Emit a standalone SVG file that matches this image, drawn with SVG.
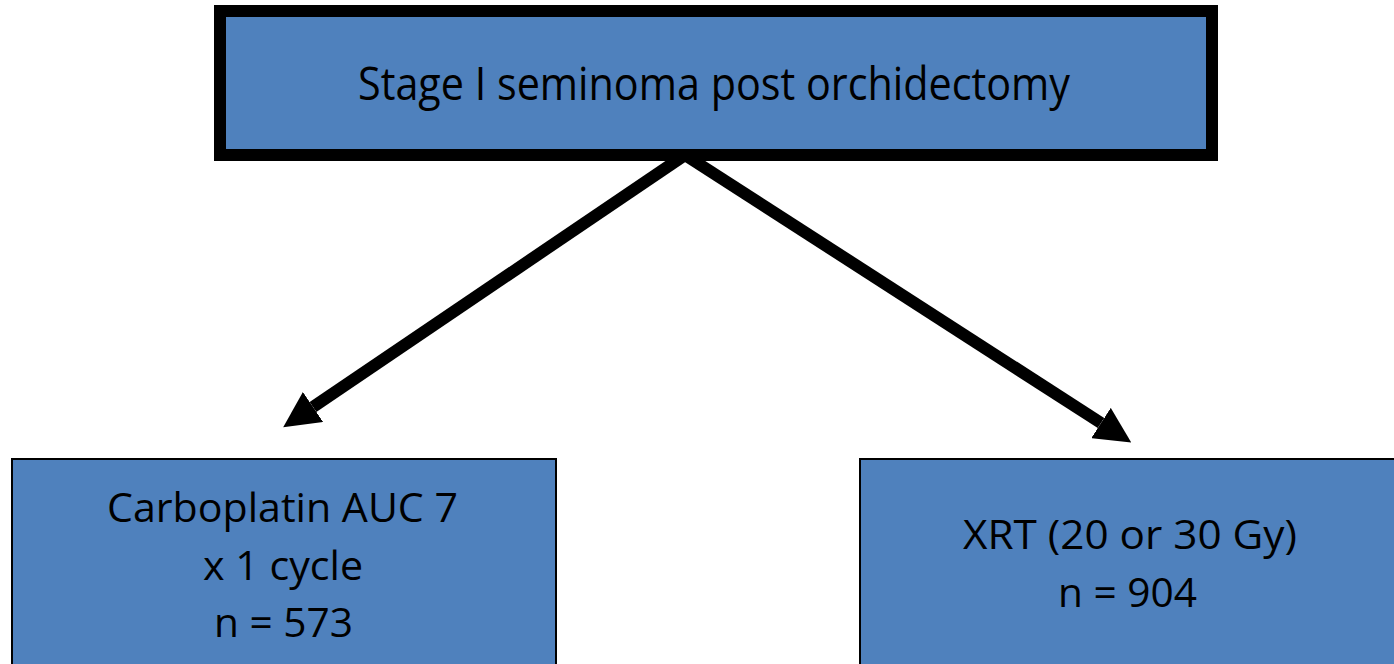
<svg xmlns="http://www.w3.org/2000/svg" width="1394" height="664" viewBox="0 0 1394 664">
<defs>
<style>
.box{fill:#4F81BD;stroke:#000}
.lbl{font-family:"Open Sans","Liberation Sans",sans-serif;fill:#000}
.conn{stroke:#000;stroke-width:12;fill:none}
</style>
<marker id="ah" viewBox="0 0 36 36" refX="0" refY="18" markerWidth="36" markerHeight="36" markerUnits="userSpaceOnUse" orient="auto">
<path d="M0,0 L36,18 L0,36 z" fill="#000"/>
</marker>
</defs>
<rect width="1394" height="664" fill="#fff"/>
<g id="connectors">
<line class="conn" x1="685" y1="155" x2="313" y2="407" marker-end="url(#ah)"/>
<line class="conn" x1="685" y1="155" x2="1101" y2="423" marker-end="url(#ah)"/>
</g>
<g id="node-top">
<rect class="box" x="220" y="11" width="992" height="144" stroke-width="12"/>
<text class="lbl" x="358" y="100" font-size="45" textLength="712" lengthAdjust="spacingAndGlyphs">Stage I seminoma post orchidectomy</text>
</g>
<g id="node-carboplatin">
<rect class="box" x="12" y="459" width="544" height="250" stroke-width="2"/>
<text class="lbl" x="107" y="522" font-size="41" textLength="351" lengthAdjust="spacingAndGlyphs">Carboplatin AUC 7</text>
<text class="lbl" x="203" y="580" font-size="41" textLength="160" lengthAdjust="spacingAndGlyphs">x 1 cycle</text>
<text class="lbl" x="214" y="637" font-size="41" textLength="139" lengthAdjust="spacingAndGlyphs">n = 573</text>
</g>
<g id="node-xrt">
<rect class="box" x="860" y="459" width="560" height="250" stroke-width="2"/>
<text class="lbl" x="963" y="549" font-size="41" textLength="334" lengthAdjust="spacingAndGlyphs">XRT (20 or 30 Gy)</text>
<text class="lbl" x="1058" y="607" font-size="41" textLength="139" lengthAdjust="spacingAndGlyphs">n = 904</text>
</g>
</svg>
